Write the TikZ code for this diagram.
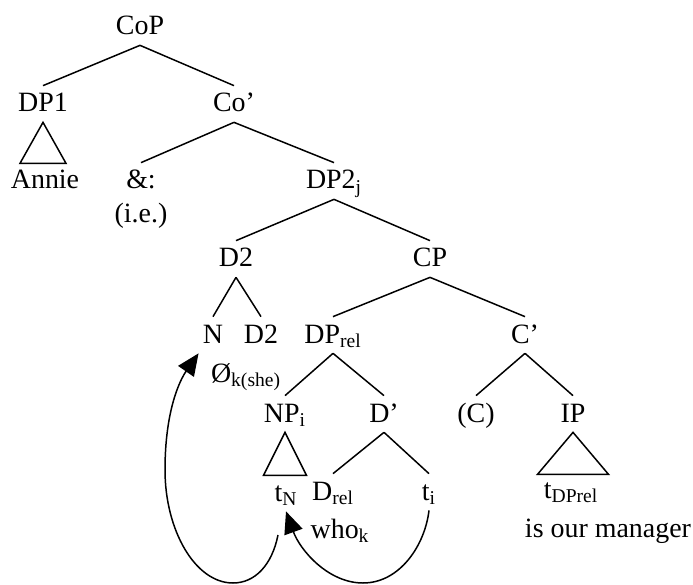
\documentclass[tikz,border=0pt]{standalone}
\usepackage{fontspec}
\setmainfont{Liberation Serif}
\usepackage{tikz}
\usetikzlibrary{arrows.meta, calc}

\begin{document}
\begin{tikzpicture}[
  font = \fontsize{15.9}{19}\selectfont,
  lbl/.style  = {inner xsep=0.08cm, inner ysep=0.08cm, text height=0.44cm,
                 text depth=0.12cm, anchor=base},
  br/.style   = {line width=0.85pt},
  tri/.style  = {line width=0.85pt, line join=miter},
  mv/.style   = {-{Triangle[length=0.44cm,width=0.38cm]}, line width=0.85pt}
]
\useasboundingbox (0,0) rectangle (13.86,-11.7);

\node[lbl] (cop)   at (2.80,-0.70)  {CoP};
\node[lbl] (dp1)   at (0.86,-2.24)  {DP1};
\node[lbl] (cobar) at (4.68,-2.24)  {Co'};
\node[lbl] (annie) at (0.90,-3.78)  {Annie};
\node[lbl] (amp)   at (2.82,-3.78)  {\&:};
\node[lbl] (ie)    at (2.82,-4.46)  {(i.e.)};
\node[lbl] (dp2)   at (6.68,-3.78)  {DP2\textsubscript{j}};
\node[lbl] (d2)    at (4.72,-5.34)  {D2};
\node[lbl] (cp)    at (8.60,-5.34)  {CP};
\node[lbl] (n)     at (4.26,-6.86)  {N};
\node[lbl] (d2b)   at (5.22,-6.86)  {D2};
\node[lbl] (dprel) at (6.66,-6.86)  {DP\textsubscript{rel}};
\node[lbl] (cbar)  at (10.50,-6.86) {C'};
\node[lbl] (null)  at (4.92,-7.64)  {Ø\textsubscript{k(she)}};
\node[lbl] (np)    at (5.70,-8.44)  {NP\textsubscript{i}};
\node[lbl] (dbar)  at (7.68,-8.44)  {D'};
\node[lbl] (c)     at (9.52,-8.44)  {(C)};
\node[lbl] (ip)    at (11.46,-8.44) {IP};
\node[lbl] (tn)    at (5.72,-10.02) {t\textsubscript{N}};
\node[lbl] (drel)  at (6.66,-10.00) {D\textsubscript{rel}};
\node[lbl] (ti)    at (8.58,-10.00) {t\textsubscript{i}};
\node[lbl] (who)   at (6.80,-10.76) {who\textsubscript{k}};
\node[lbl] (tdp)   at (11.42,-9.96) {t\textsubscript{DPrel}};
\node[lbl] (mgr)   at (12.16,-10.74) {is our manager};
\coordinate (tnfoot) at (5.56,-10.70);

\draw[br] (cop.south) -- (dp1.north);
\draw[br] (cop.south) -- (cobar.north);
\draw[br] (cobar.south) -- (amp.north);
\draw[br] (cobar.south) -- (dp2.north);
\draw[br] (dp2.south) -- (d2.north);
\draw[br] (dp2.south) -- (cp.north);
\draw[br] (d2.south) -- (n.north);
\draw[br] (d2.south) -- (d2b.north);
\draw[br] (cp.south) -- (dprel.north);
\draw[br] (cp.south) -- (cbar.north);
\draw[br] (dprel.south) -- (np.north);
\draw[br] (dprel.south) -- (dbar.north);
\draw[br] (dbar.south) -- (drel.north);
\draw[br] (dbar.south) -- (ti.north);
\draw[br] (cbar.south) -- (c.north);
\draw[br] (cbar.south) -- (ip.north);

\draw[tri] (dp1.south) -- ++(-0.46,-0.82) -- ++(0.92,0) -- cycle;
\draw[tri] (np.south) -- ++(-0.43,-0.86) -- ++(0.86,0) -- cycle;
\draw[tri] (ip.south) -- ++(-0.71,-0.84) -- ++(1.42,0) -- cycle;

\draw[mv] (tnfoot) .. controls (5.44,-11.30) and (5.10,-11.66) .. (4.66,-11.66)
  .. controls (3.90,-11.66) and (3.30,-10.60) .. (3.30,-9.40)
  .. controls (3.30,-8.20) and (3.60,-7.60) .. (n.south west);
\draw[mv] (ti.south) .. controls (8.50,-10.90) and (8.00,-11.66) .. (7.26,-11.66)
  .. controls (6.56,-11.66) and (6.00,-11.00) .. (tn.south);
\end{tikzpicture}
\end{document}
